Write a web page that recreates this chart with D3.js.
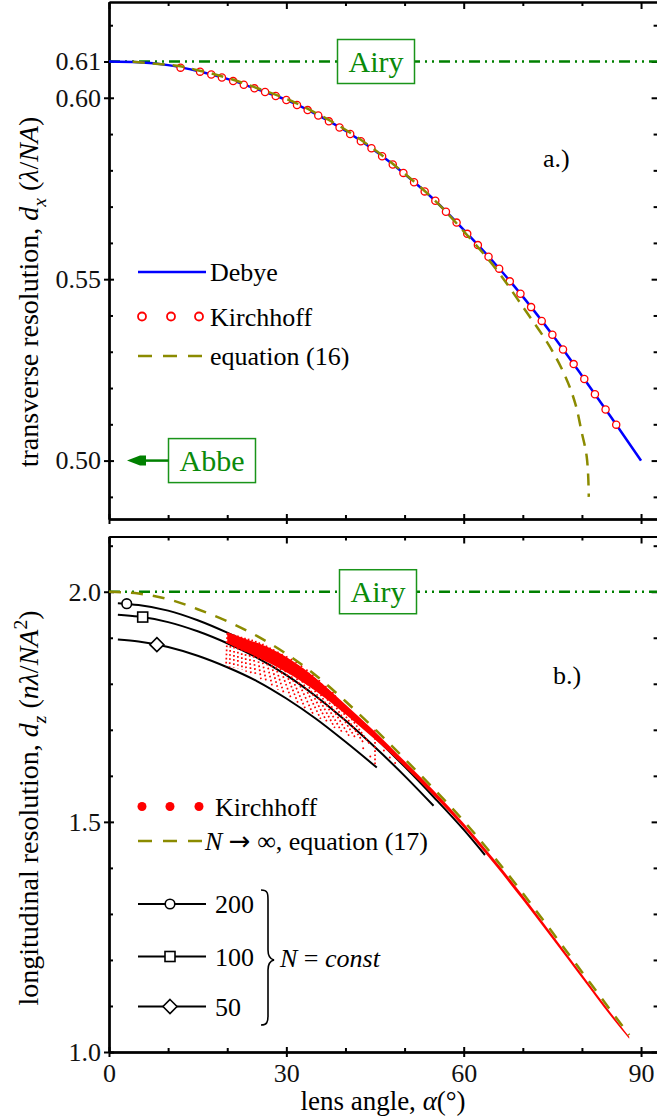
<!DOCTYPE html>
<html><head><meta charset="utf-8">
<script src="https://cdn.jsdelivr.net/npm/d3@7"></script>
<style>
body{margin:0;background:#fff;}
svg{display:block;font-family:"Liberation Serif","Times New Roman",serif;}
</style></head><body>
<svg id="chart" width="657" height="1116"></svg>
<script>
// ---------- panel a: transverse resolution ----------
const debyeAlpha = [0,5,10,15,20,25,30,35,40,45,50,55,60,65,70,75,80,85,90];
const debyeDx = [0.6100,0.6098,0.6090,0.6074,0.6052,0.6024,0.5994,0.5955,0.5909,0.5854,0.5790,0.5719,0.5636,0.5548,0.5452,0.5347,0.5234,0.5118,0.5000];

const kirchTopAlpha = [12.1,15.4,17.3,19.1,21.0,22.8,24.6,26.4,28.2,30.0,31.8,33.6,35.4,37.2,39.0,40.8,42.6,44.4,46.2,48.0,49.8,51.6,53.4,55.2,57.0,58.8,60.6,62.4,64.2,66.0,67.8,69.6,71.4,73.2,75.0,76.8,78.6,80.4,82.2,84.0,85.8];
const kirchTopDx = [0.6083,0.6072,0.6064,0.6056,0.6046,0.6036,0.6026,0.6016,0.6005,0.5994,0.5980,0.5966,0.5951,0.5935,0.5918,0.5900,0.5880,0.5861,0.5839,0.5816,0.5793,0.5767,0.5742,0.5716,0.5686,0.5656,0.5625,0.5594,0.5562,0.5529,0.5494,0.5460,0.5423,0.5385,0.5347,0.5306,0.5266,0.5225,0.5183,0.5141,0.5099];

const eq16Alpha = [4,10,15,20,25,30,35,40,45,50,55,60,65,70,75,78,79,80,80.5,80.8,81.0,81.12,81.16];
const eq16Dx = [0.6099,0.6091,0.6076,0.6055,0.6027,0.5997,0.5958,0.5912,0.5856,0.5791,0.5719,0.5632,0.5538,0.5424,0.5302,0.5200,0.5150,0.5075,0.5040,0.5012,0.4975,0.4930,0.4900];

const airyDx = 0.61;
const abbeDx = 0.50;

// ---------- panel b: longitudinal resolution ----------
const eq17Alpha = [0,5,10,15,20,25,30,35,40,45,50,55,60,65,70,75,80,85,88];
const eq17Dz = [2.000,1.996,1.984,1.962,1.936,1.904,1.865,1.818,1.762,1.701,1.637,1.571,1.502,1.426,1.345,1.260,1.174,1.088,1.037];

const n200Alpha = [1.5,5,10,15,20,25,30,35,40,45,50,55,60,63.6];
const n200Dz = [1.975,1.971,1.959,1.938,1.911,1.880,1.842,1.796,1.742,1.683,1.620,1.553,1.483,1.428];
const n100Alpha = [1.5,5,10,15,20,25,30,35,40,45,50,54.9];
const n100Dz = [1.950,1.946,1.934,1.914,1.888,1.857,1.819,1.773,1.720,1.662,1.600,1.535];
const n50Alpha = [1.5,5,10,15,20,25,30,35,40,45.3];
const n50Dz = [1.896,1.892,1.880,1.861,1.836,1.806,1.768,1.724,1.674,1.618];

const markerAlpha = [3.0,5.7,8.1];
const markerDz = [1.974,1.945,1.885];
const markerShape = ["circle","square","diamond"];
const nLabels = ["200","100","50"];

const kirchBandAlpha = [20,23,26,30,35,40,45,50,55,60,65,70,75,80,85,88];
const kirchBandHi = [1.912,1.898,1.884,1.858,1.812,1.755,1.696,1.632,1.567,1.497,1.421,1.340,1.255,1.169,1.083,1.033];
const kirchBandLo = [1.888,1.870,1.852,1.825,1.784,1.734,1.679,1.620,1.556,1.487,1.411,1.330,1.246,1.161,1.076,1.029];

const rayTopAlpha = [20.0,20.6,21.2,21.8,22.4,23.0,23.6,24.2,24.8,25.4,26.0,26.6,27.2,27.8,28.5,29.2,30.0,30.8,31.6,32.5,33.4,34.4,35.5,36.6,37.8,45.0];
const rayTopDz = [1.910,1.909,1.907,1.905,1.902,1.900,1.898,1.896,1.893,1.890,1.887,1.883,1.879,1.875,1.870,1.865,1.860,1.854,1.848,1.840,1.831,1.820,1.808,1.795,1.782,1.700];
const rayEndAlpha = [19.8,20.4,21.1,21.8,22.5,23.2,24.0,24.8,25.7,26.6,27.6,28.6,29.6,30.8,32.0,33.2,34.5,35.8,37.0,38.2,39.4,40.6,41.8,43.0,44.2,45.0];
const rayEndDz = [1.838,1.836,1.835,1.833,1.830,1.826,1.821,1.816,1.810,1.803,1.795,1.787,1.778,1.768,1.757,1.746,1.735,1.724,1.714,1.704,1.695,1.687,1.680,1.673,1.667,1.620];

const scatterAlpha = [43.0,44.2,46.5,47.5,48.4,61.5];
const scatterDz = [1.660,1.642,1.655,1.640,1.628,1.470];

// ---------- ticks ----------
const xMajor = [0,30,60,90];
const xMinor = [10,20,40,50,70,80];
const topMajor = [0.50,0.55,0.60,0.61];
const topMinor = [0.49,0.51,0.52,0.53,0.54,0.56,0.57,0.58,0.59,0.62];
const botMajor = [1.0,1.5,2.0];
const botMinor = [1.1,1.2,1.3,1.4,1.6,1.7,1.8,1.9,2.1];

const svg = d3.select("#chart");
const FS = 26;
const GREEN = "#008000", OLIVE = "#8b8b00", BLUE = "#0000ff", RED = "#ff0000";

const x = d3.scaleLinear().domain([0, 92.8]).range([109, 657.6]);
const yTop = d3.scaleLinear().domain([0.4839, 0.6264]).range([519, 2]);
const yBot = d3.scaleLinear().domain([1.0, 2.12]).range([1052, 536.5]);

function styleAxis(g){
  g.attr("font-size", null).attr("font-family", null);
  g.selectAll(".domain").attr("stroke", "#000").attr("stroke-width", 2);
  g.selectAll(".tick line").attr("stroke", "#000").attr("stroke-width", 2);
  g.selectAll(".tick text").attr("font-size", FS).attr("fill", "#111");
}

function frame(y, major, minor, fmt, xLabels){
  const [yb, yt] = y.range();
  const xr = x.range();
  const add = (tr, ax) => svg.append("g").attr("transform", tr).call(ax).call(styleAxis);
  // bottom spine
  add(`translate(0,${yb})`, d3.axisBottom(x).tickValues(xMajor).tickSize(5).tickSizeOuter(0).tickPadding(7)
      .tickFormat(xLabels ? d3.format("d") : ""));
  add(`translate(0,${yb})`, d3.axisBottom(x).tickValues(xMajor).tickSize(-5).tickSizeOuter(0).tickFormat(""));
  add(`translate(0,${yb})`, d3.axisBottom(x).tickValues(xMinor).tickSize(-4).tickSizeOuter(0).tickFormat(""));
  // top spine
  add(`translate(0,${yt})`, d3.axisTop(x).tickValues(xMajor).tickSize(-7).tickSizeOuter(0).tickFormat(""));
  add(`translate(0,${yt})`, d3.axisTop(x).tickValues(xMinor).tickSize(-4).tickSizeOuter(0).tickFormat(""));
  // left spine
  add(`translate(${xr[0]},0)`, d3.axisLeft(y).tickValues(major).tickSize(5).tickSizeOuter(0).tickPadding(3).tickFormat(fmt));
  add(`translate(${xr[0]},0)`, d3.axisLeft(y).tickValues(major).tickSize(-5).tickSizeOuter(0).tickFormat(""));
  add(`translate(${xr[0]},0)`, d3.axisLeft(y).tickValues(minor).tickSize(-4).tickSizeOuter(0).tickFormat(""));
  // right spine
  add(`translate(${xr[1]},0)`, d3.axisRight(y).tickValues(major).tickSize(-6).tickSizeOuter(0).tickFormat(""));
  add(`translate(${xr[1]},0)`, d3.axisRight(y).tickValues(minor).tickSize(-4).tickSizeOuter(0).tickFormat(""));
}

function rich(sel, parts, fs){
  let shift = 0;
  parts.forEach(p => {
    const ts = sel.append("tspan").text(p.t);
    if (p.it) ts.attr("font-style", "italic");
    if (p.ff) ts.attr("font-family", p.ff);
    let target = 0;
    if (p.sub){ target = fs * 0.28; ts.attr("font-size", fs * 0.7); }
    if (p.sup){ target = -fs * 0.4; ts.attr("font-size", fs * 0.7); }
    if (target !== shift){ ts.attr("dy", target - shift); shift = target; }
  });
  return sel;
}

function boxedLabel(cx, cy, txt){
  const g = svg.append("g");
  const t = g.append("text").attr("x", cx).attr("y", cy + 10).attr("text-anchor", "middle")
    .attr("font-size", 30).attr("fill", "#0a8a0a").text(txt);
  const bb = t.node().getBBox();
  g.insert("rect", "text").attr("x", bb.x - 11).attr("y", cy - 22).attr("width", bb.width + 22).attr("height", 44)
    .attr("fill", "#fff").attr("stroke", "#1a941a").attr("stroke-width", 1.5);
  return bb;
}

const dashDot = "11,5,2,5,2,5";

// ================= panel a =================
frame(yTop, topMajor, topMinor, d3.format(".2f"), false);

svg.append("line").attr("x1", x(0)).attr("x2", x.range()[1]).attr("y1", yTop(airyDx)).attr("y2", yTop(airyDx))
  .attr("stroke", GREEN).attr("stroke-width", 2.5).attr("stroke-dasharray", dashDot);

const lineTop = d3.line().curve(d3.curveMonotoneX);
svg.append("path").attr("d", lineTop(debyeAlpha.map((a, i) => [x(a), yTop(debyeDx[i])])))
  .attr("fill", "none").attr("stroke", BLUE).attr("stroke-width", 2.5);

svg.append("g").selectAll("circle").data(kirchTopAlpha).join("circle")
  .attr("cx", d => x(d)).attr("cy", (d, i) => yTop(kirchTopDx[i])).attr("r", 3.6)
  .attr("fill", "#fff").attr("stroke", RED).attr("stroke-width", 1.3);

svg.append("path").attr("d", d3.line().curve(d3.curveMonotoneY)(eq16Alpha.map((a, i) => [x(a), yTop(eq16Dx[i])])))
  .attr("fill", "none").attr("stroke", OLIVE).attr("stroke-width", 2.5).attr("stroke-dasharray", "12,8");

boxedLabel(376, yTop(airyDx), "Airy");

// Abbe limit marker with arrow
const abbeBB = boxedLabel(212, yTop(abbeDx), "Abbe");
svg.append("line").attr("x1", abbeBB.x - 11).attr("x2", 138).attr("y1", yTop(abbeDx)).attr("y2", yTop(abbeDx))
  .attr("stroke", GREEN).attr("stroke-width", 2.5);
svg.append("path").attr("d", `M127,${yTop(abbeDx)} L140,${yTop(abbeDx) - 5} L146,${yTop(abbeDx) - 5} L146,${yTop(abbeDx) + 5} L140,${yTop(abbeDx) + 5} Z`)
  .attr("fill", GREEN);

svg.append("text").attr("x", 543).attr("y", 167).attr("font-size", FS).text("a.)");

// legend a
const legA = svg.append("g");
legA.append("line").attr("x1", 138).attr("x2", 206).attr("y1", 272).attr("y2", 272).attr("stroke", BLUE).attr("stroke-width", 2.5);
legA.append("text").attr("x", 210).attr("y", 281).attr("font-size", FS).text("Debye");
[142, 171, 199].forEach(cx => legA.append("circle").attr("cx", cx).attr("cy", 316.5).attr("r", 4)
  .attr("fill", "#fff").attr("stroke", RED).attr("stroke-width", 1.8));
legA.append("text").attr("x", 210).attr("y", 325.5).attr("font-size", FS).text("Kirchhoff");
legA.append("line").attr("x1", 138).attr("x2", 206).attr("y1", 356).attr("y2", 356).attr("stroke", OLIVE)
  .attr("stroke-width", 2.5).attr("stroke-dasharray", "14,11");
legA.append("text").attr("x", 210).attr("y", 365).attr("font-size", FS).text("equation (16)");

// y title a
rich(svg.append("text").attr("transform", "translate(38,292) rotate(-90)").attr("text-anchor", "middle")
  .attr("font-size", 28),
  [{t: "transverse resolution, "}, {t: "d", it: 1}, {t: "x", it: 1, sub: 1}, {t: " ("}, {t: "λ", it: 1}, {t: "/"}, {t: "NA", it: 1}, {t: ")"}], 28);

// ================= panel b =================
frame(yBot, botMajor, botMinor, d3.format(".1f"), true);

svg.append("line").attr("x1", x(0)).attr("x2", x.range()[1]).attr("y1", yBot(2.0)).attr("y2", yBot(2.0))
  .attr("stroke", GREEN).attr("stroke-width", 2.5).attr("stroke-dasharray", dashDot);

const lineBot = d3.line().curve(d3.curveMonotoneX);
[[n200Alpha, n200Dz], [n100Alpha, n100Dz], [n50Alpha, n50Dz]].forEach(([A, V]) => {
  svg.append("path").attr("d", lineBot(A.map((a, i) => [x(a), yBot(V[i])])))
    .attr("fill", "none").attr("stroke", "#000").attr("stroke-width", 2);
});

// Kirchhoff cloud: fan of dotted strands, dense band, isolated dots
const rays = svg.append("g");
rayTopAlpha.forEach((a, i) => {
  rays.append("line").attr("x1", x(a)).attr("y1", yBot(rayTopDz[i])).attr("x2", x(rayEndAlpha[i])).attr("y2", yBot(rayEndDz[i]))
    .attr("stroke", RED).attr("stroke-width", 1.7).attr("stroke-dasharray", "1.7,2.4");
});
svg.append("path").attr("d", d3.area().curve(d3.curveMonotoneX)
    .x((a) => x(a)).y0((a, i) => yBot(kirchBandLo[i])).y1((a, i) => yBot(kirchBandHi[i]))(kirchBandAlpha))
  .attr("fill", RED);
svg.append("g").selectAll("circle").data(scatterAlpha).join("circle")
  .attr("cx", d => x(d)).attr("cy", (d, i) => yBot(scatterDz[i])).attr("r", 1).attr("fill", RED);

svg.append("path").attr("d", lineBot(eq17Alpha.map((a, i) => [x(a), yBot(eq17Dz[i])])))
  .attr("fill", "none").attr("stroke", OLIVE).attr("stroke-width", 2.5).attr("stroke-dasharray", "12,10");

function marker(g, shape, cx, cy){
  if (shape === "circle") g.append("circle").attr("cx", cx).attr("cy", cy).attr("r", 4.8);
  else if (shape === "square") g.append("rect").attr("x", cx - 5).attr("y", cy - 5).attr("width", 10).attr("height", 10);
  else g.append("path").attr("d", `M${cx},${cy - 7} L${cx + 7},${cy} L${cx},${cy + 7} L${cx - 7},${cy} Z`);
}
const mk = svg.append("g").attr("fill", "#fff").attr("stroke", "#000").attr("stroke-width", 1.6);
markerAlpha.forEach((a, i) => marker(mk, markerShape[i], x(a), yBot(markerDz[i])));

boxedLabel(378, yBot(2.0), "Airy");
svg.append("text").attr("x", 553).attr("y", 684).attr("font-size", FS).text("b.)");

// legend b
const legB = svg.append("g");
[142, 170, 199].forEach(cx => legB.append("circle").attr("cx", cx).attr("cy", 806.5).attr("r", 4.5).attr("fill", RED));
legB.append("text").attr("x", 215).attr("y", 815.5).attr("font-size", FS).text("Kirchhoff");
legB.append("line").attr("x1", 138).attr("x2", 203).attr("y1", 841).attr("y2", 841).attr("stroke", OLIVE)
  .attr("stroke-width", 2.5).attr("stroke-dasharray", "14,11");
rich(legB.append("text").attr("x", 205).attr("y", 850).attr("font-size", FS),
  [{t: "N", it: 1}, {t: " "}, {t: "→", ff: "DejaVu Sans"}, {t: " ∞, equation (17)"}], FS);
const legRows = [904, 956.5, 1006.5];
legRows.forEach((cy, i) => {
  legB.append("line").attr("x1", 138).attr("x2", 206).attr("y1", cy).attr("y2", cy).attr("stroke", "#000").attr("stroke-width", 2);
  const m = legB.append("g").attr("fill", "#fff").attr("stroke", "#000").attr("stroke-width", 1.6);
  marker(m, markerShape[i], 170, cy);
  legB.append("text").attr("x", 215).attr("y", cy + 9).attr("font-size", FS).text(nLabels[i]);
});
legB.append("path").attr("d", "M261,890 C268,890 268,894 268,900 L268,950 C268,956 270,959 274,960 C270,961 268,964 268,970 L268,1016 C268,1022 267,1025 261,1025")
  .attr("fill", "none").attr("stroke", "#000").attr("stroke-width", 1.6);
rich(legB.append("text").attr("x", 280).attr("y", 967).attr("font-size", FS),
  [{t: "N", it: 1}, {t: " = "}, {t: "const", it: 1}], FS);

// y title b
rich(svg.append("text").attr("transform", "translate(38,808) rotate(-90)").attr("text-anchor", "middle")
  .attr("font-size", 28),
  [{t: "longitudinal resolution, "}, {t: "d", it: 1}, {t: "z", it: 1, sub: 1}, {t: " ("}, {t: "n", it: 1}, {t: "λ", it: 1}, {t: "/"}, {t: "NA", it: 1}, {t: "2", sup: 1}, {t: ")"}], 28);

// x title
rich(svg.append("text").attr("x", 383).attr("y", 1110).attr("text-anchor", "middle").attr("font-size", 27),
  [{t: "lens angle, "}, {t: "α", it: 1}, {t: "(°)"}], 27);
</script>
</body></html>
